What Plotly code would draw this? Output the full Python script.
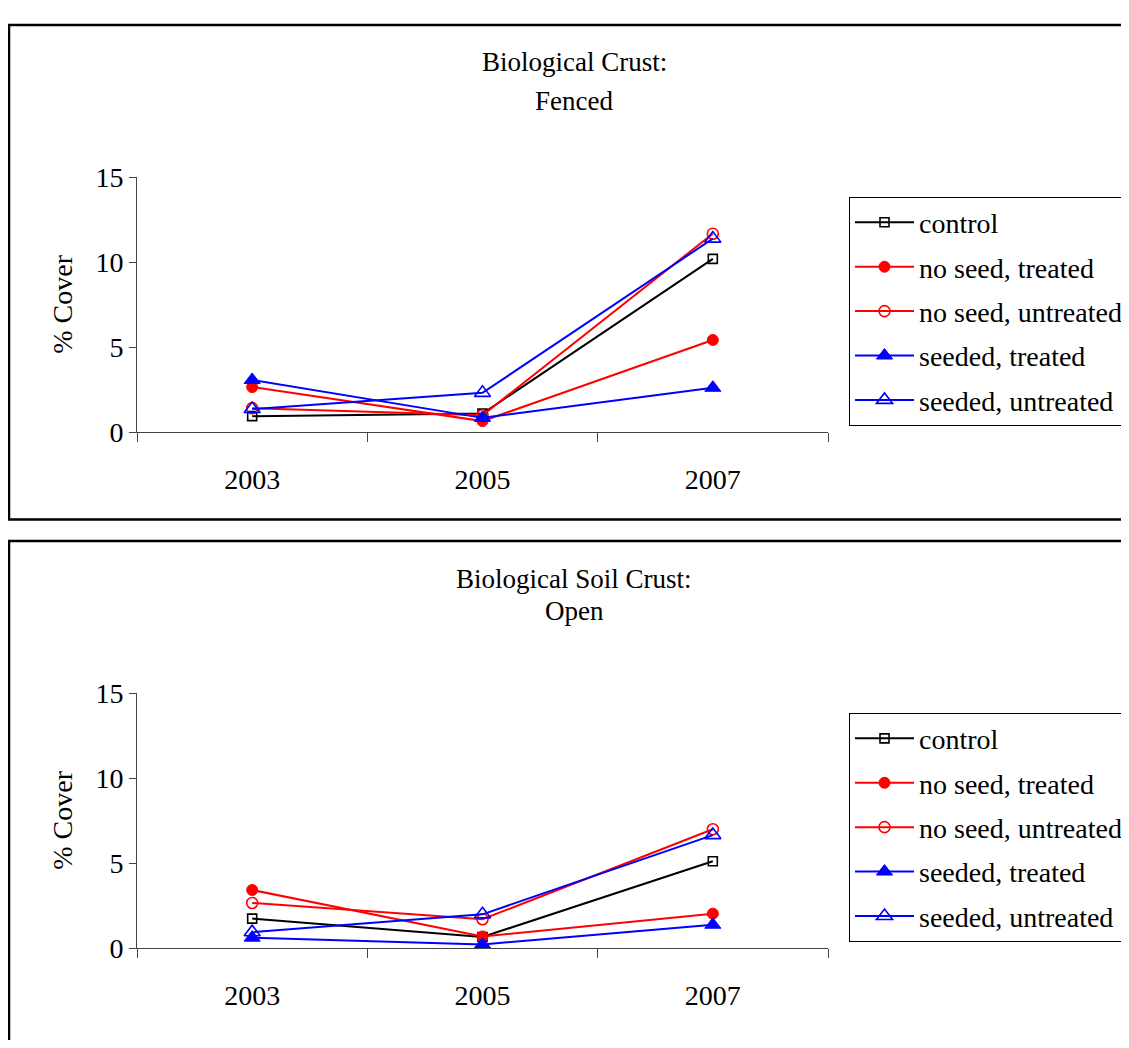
import plotly.graph_objects as go

# The page body adds an 8px margin around the figure; compensate for it.
OFF = 8
W, H = 1129 - OFF, 1048 - 2 * OFF

years = ["2003", "2005", "2007"]
series_names = ["control", "no seed, treated", "no seed, untreated",
                "seeded, treated", "seeded, untreated"]

fenced_control = [0.95, 1.1, 10.2]
fenced_noseed_treated = [2.66, 0.66, 5.43]
fenced_noseed_untreated = [1.42, 1.0, 11.68]
fenced_seeded_treated = [3.08, 0.85, 2.62]
fenced_seeded_untreated = [1.37, 2.32, 11.39]

open_control = [1.75, 0.67, 5.12]
open_noseed_treated = [3.43, 0.7, 2.04]
open_noseed_untreated = [2.67, 1.71, 7.0]
open_seeded_treated = [0.63, 0.23, 1.39]
open_seeded_untreated = [0.95, 2.0, 6.66]

y_ticks = [0, 5, 10, 15]

styles = [
    dict(color="black", symbol="square-open", size=9, lw=1.6),
    dict(color="#FF0000", symbol="circle", size=11, lw=1),
    dict(color="#FF0000", symbol="circle-open", size=11, lw=1.6),
    dict(color="#0000FF", symbol="triangle-up", size=14, lw=1),
    dict(color="#0000FF", symbol="triangle-up-open", size=14, lw=1.6),
]

FONT = "Liberation Serif"

def px_x(p):
    return (p - OFF) / W

def px_y(p):
    return 1 - (p - OFF) / H

fig = go.Figure()

panels = [
    ("x", "y", "legend", [fenced_control, fenced_noseed_treated, fenced_noseed_untreated,
                          fenced_seeded_treated, fenced_seeded_untreated]),
    ("x2", "y2", "legend2", [open_control, open_noseed_treated, open_noseed_untreated,
                             open_seeded_treated, open_seeded_untreated]),
]

for pi, (xa, ya, lg, data) in enumerate(panels):
    for i, (name, vals, st) in enumerate(zip(series_names, data, styles)):
        fig.add_trace(go.Scatter(
            x=years, y=vals, name=name, mode="lines+markers",
            xaxis=xa, yaxis=ya, legend=lg, legendgroup=f"p{pi}s{i}",
            line=dict(color=st["color"], width=2),
            marker=dict(symbol=st["symbol"], size=st["size"], color=st["color"],
                        line=dict(color=st["color"], width=st["lw"])),
        ))

axis_color = "#444444"
xcommon = dict(type="category", categoryorder="array", categoryarray=years,
               range=[-0.5, 2.5], tickson="boundaries", ticks="outside", ticklen=9,
               tickcolor=axis_color, tickwidth=1, showline=True, linecolor=axis_color,
               linewidth=1, showgrid=False, zeroline=False,
               tickfont=dict(family=FONT, size=28, color="black"),
               ticklabelstandoff=22, fixedrange=True)
ycommon = dict(range=[0, 15], tickvals=y_ticks, ticks="outside", ticklen=7,
               tickcolor=axis_color, tickwidth=1, showline=True, linecolor=axis_color,
               linewidth=1, showgrid=False, zeroline=False,
               tickfont=dict(family=FONT, size=28, color="black"), fixedrange=True)

xdom = [px_x(137), px_x(828)]
fig.update_layout(
    xaxis=dict(domain=xdom, anchor="y", **xcommon),
    yaxis=dict(domain=[px_y(430), px_y(167)], anchor="x", **ycommon),
    xaxis2=dict(domain=xdom, anchor="y2", **xcommon),
    yaxis2=dict(domain=[px_y(962), px_y(699)], anchor="x2", **ycommon),
)

legcommon = dict(xanchor="left", yanchor="top", bordercolor="black", borderwidth=1,
                 bgcolor="white", font=dict(family=FONT, size=28, color="black"),
                 tracegroupgap=5, itemwidth=59, itemclick=False, itemdoubleclick=False)
fig.update_layout(
    legend=dict(x=px_x(849), y=px_y(187), **legcommon),
    legend2=dict(x=px_x(849), y=px_y(719), **legcommon),
)

annotations = []
for text, yc in [("Biological Crust:", 48), ("Fenced", 88),
                 ("Biological Soil Crust:", 581), ("Open", 614)]:
    annotations.append(dict(text=text, x=px_x(574), y=px_y(yc), xref="paper", yref="paper",
                            xanchor="center", yanchor="middle", showarrow=False,
                            font=dict(family=FONT, size=27, color="black")))
for yc in [298.5, 830.5]:
    annotations.append(dict(text="% Cover", x=px_x(63), y=px_y(yc), xref="paper", yref="paper",
                            xanchor="center", yanchor="middle", showarrow=False, textangle=-90,
                            font=dict(family=FONT, size=28, color="black")))

shapes = [
    dict(type="rect", xref="paper", yref="paper", x0=px_x(9), x1=1.1,
         y0=px_y(520), y1=px_y(10), line=dict(color="black", width=2.5)),
    dict(type="rect", xref="paper", yref="paper", x0=px_x(9), x1=1.1,
         y0=-0.1, y1=px_y(542), line=dict(color="black", width=2.5)),
]

fig.update_layout(
    width=W, height=H, margin=dict(l=0, r=0, t=0, b=0),
    paper_bgcolor="white", plot_bgcolor="white",
    annotations=annotations, shapes=shapes,
    font=dict(family=FONT, color="black"),
)

fig.write_html("out.html", config={"displayModeBar": False})
